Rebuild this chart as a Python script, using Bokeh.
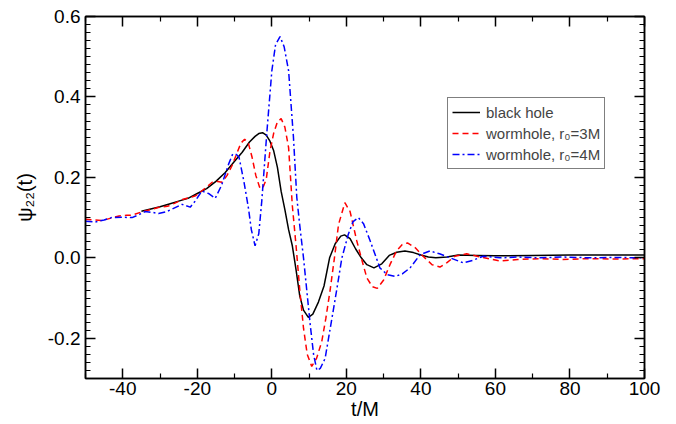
from bokeh.plotting import figure
from bokeh.models import (LinearAxis, FixedTicker, Legend, LegendItem, Range1d)
from bokeh.embed import file_html
from bokeh.resources import INLINE

# ---------------- data ----------------
t_bh = [-35, -30, -27.5, -25, -22.5, -20, -17.5, -15, -12.5, -10, -8, -6, -4.5, -3.5, -2.5,
        -1.5, -0.5, 0.5, 1.5, 2.5, 3.5, 4.5, 5.5, 6.5, 7.5, 8.5, 9.8, 11, 12.5, 14, 15.5,
        17, 18.5, 19.5, 21, 22.5, 24, 25.5, 27.4, 29.5, 31.5, 33.5, 35.7, 38, 40, 42, 44,
        47, 50, 55, 60, 70, 80, 90, 100]
psi_bh = [0.116, 0.127, 0.134, 0.141, 0.148, 0.160, 0.172, 0.190, 0.212, 0.240, 0.262, 0.288,
          0.302, 0.309, 0.311, 0.305, 0.290, 0.266, 0.225, 0.165, 0.120, 0.070, 0.030, -0.030,
          -0.095, -0.130, -0.148, -0.140, -0.110, -0.070, 0.000, 0.035, 0.054, 0.057, 0.048,
          0.022, 0.000, -0.017, -0.025, -0.015, 0.006, 0.014, 0.017, 0.013, 0.007, 0.002,
          0.000, 0.002, 0.007, 0.006, 0.005, 0.006, 0.007, 0.007, 0.007]

t_wh3 = [-50, -47.5, -45.5, -43, -41, -39, -37.5, -35, -32.5, -30.5, -28, -26, -24, -22, -20.5,
         -19, -17.5, -16, -14.5, -13.4, -12, -10.7, -9.3, -8.3, -7.3, -6.3, -5.3, -4.3, -3.3,
         -2.5, -1.5, -0.5, 0.5, 1.5, 2.5, 3.5, 4.5, 5.5, 6.5, 7.5, 8.5, 9.5, 10.7, 12, 13.4,
         14.5, 15.6, 16.8, 17.9, 19.6, 21, 22.8, 24, 25.5, 27, 28.3, 30, 31.7, 33.5, 35, 36.4,
         38.5, 40.6, 43, 45.1, 47, 49.1, 52.3, 56, 61.2, 66, 72, 78, 85, 92, 100]
psi_wh3 = [0.096, 0.094, 0.093, 0.099, 0.104, 0.106, 0.106, 0.114, 0.120, 0.125, 0.128, 0.136,
           0.145, 0.150, 0.154, 0.165, 0.176, 0.188, 0.190, 0.188, 0.205, 0.229, 0.262, 0.285,
           0.295, 0.285, 0.250, 0.205, 0.176, 0.172, 0.195, 0.265, 0.310, 0.338, 0.346, 0.325,
           0.274, 0.130, 0.030, -0.080, -0.175, -0.240, -0.270, -0.250, -0.208, -0.150, -0.083,
           0.000, 0.083, 0.137, 0.115, 0.042, 0.000, -0.050, -0.072, -0.076, -0.055, -0.017,
           0.018, 0.033, 0.037, 0.025, 0.004, -0.017, -0.023, -0.012, 0.004, 0.010, 0.002,
           -0.008, -0.004, -0.002, -0.004, -0.002, -0.003, -0.002]

t_wh4 = [-50, -47.5, -45, -43, -40, -37.5, -35.5, -34, -32, -30.4, -28.5, -26.8, -24.1, -21.9,
         -20.5, -18.8, -17, -15.2, -13.5, -11.6, -10.5, -9.5, -8.8, -7.5, -6.3, -5.5, -4.5,
         -3.5, -2.7, -1.3, 0, 1, 2.2, 3.3, 4.5, 5.8, 6.7, 7.5, 8.5, 10.3, 11.2, 12.1, 13, 14.3,
         16.5, 17.4, 18.8, 20.5, 21.8, 23.2, 24.6, 26.4, 29, 31, 33.1, 35, 37.1, 39.8, 42.4,
         45, 47.8, 51.4, 54, 56.7, 61.2, 66, 72, 78, 85, 92, 100]
psi_wh4 = [0.091, 0.089, 0.094, 0.100, 0.101, 0.100, 0.108, 0.115, 0.113, 0.110, 0.114, 0.121,
           0.133, 0.126, 0.142, 0.166, 0.160, 0.148, 0.180, 0.233, 0.258, 0.257, 0.250, 0.190,
           0.125, 0.070, 0.030, 0.060, 0.141, 0.316, 0.465, 0.530, 0.550, 0.525, 0.465, 0.300,
           0.150, 0.080, 0.000, -0.166, -0.240, -0.280, -0.275, -0.250, -0.130, -0.080, 0.000,
           0.058, 0.090, 0.100, 0.085, 0.042, -0.025, -0.042, -0.046, -0.040, -0.025, 0.008,
           0.017, 0.010, 0.000, -0.0125, -0.006, 0.004, 0.000, 0.002, 0.000, 0.002, 0.000,
           0.001, 0.000]

x_major = [-40, -20, 0, 20, 40, 60, 80, 100]
x_minor = [-50, -30, -10, 10, 30, 50, 70, 90]
y_major = [-0.2, 0.0, 0.2, 0.4, 0.6]
y_major_labels = ["-0.2", "0.0", "0.2", "0.4", "0.6"]
y_minor = [round(-0.3 + 0.02 * i, 2) for i in range(46)]

legend_labels = ["black hole", "wormhole, r\u2080=3M", "wormhole, r\u2080=4M"]
x_title = "t/M"
y_title = "\u03c8\u2082\u2082(t)"

FONT = "Liberation Sans"

p = figure(width=670, height=424, output_backend="svg", toolbar_location=None,
           x_range=Range1d(-50, 100), y_range=Range1d(-0.3, 0.6),
           min_border_left=85, min_border_right=26, min_border_top=16, min_border_bottom=46)
p.grid.visible = False
p.outline_line_color = "black"
p.outline_line_width = 1.5
p.background_fill_color = "white"
p.border_fill_color = "white"

r_bh = p.line(t_bh, psi_bh, line_color="black", line_width=1.5)
r_wh3 = p.line(t_wh3, psi_wh3, line_color="#ff0000", line_width=1.5, line_dash="6 4")
r_wh4 = p.line(t_wh4, psi_wh4, line_color="#0000ff", line_width=1.5, line_dash="7 3 2 3")

def style_axis(ax, ticks, minor, labels):
    ax.ticker = FixedTicker(ticks=ticks, minor_ticks=minor)
    ax.major_tick_in = 10
    ax.major_tick_out = 0
    ax.minor_tick_in = 5
    ax.minor_tick_out = 0
    ax.axis_line_width = 1.5
    ax.major_tick_line_width = 1.5
    ax.minor_tick_line_width = 1.2
    ax.major_label_text_font = FONT
    ax.major_label_text_font_size = "19px"
    ax.major_label_text_color = "black"
    ax.major_label_overrides = labels
    ax.axis_label_text_font = FONT
    ax.axis_label_text_font_style = "normal"
    ax.axis_label_text_font_size = "20px"
    ax.axis_label_text_color = "black"

xb = p.xaxis[0]
style_axis(xb, x_major, x_minor, {v: str(v) for v in x_major})
xb.major_label_standoff = 3
xb.axis_label = x_title
xb.axis_label_standoff = 0

yl = p.yaxis[0]
style_axis(yl, y_major, y_minor, {v: s for v, s in zip(y_major, y_major_labels)})
yl.major_label_standoff = 5
yl.axis_label = y_title
yl.axis_label_standoff = 9

xt = LinearAxis()
style_axis(xt, x_major, x_minor, {v: "" for v in x_major})
xt.major_label_standoff = 0
p.add_layout(xt, "above")
yr = LinearAxis()
style_axis(yr, y_major, y_minor, {v: "" for v in y_major})
yr.major_label_standoff = 0
p.add_layout(yr, "right")

legend = Legend(items=[LegendItem(label=legend_labels[0], renderers=[r_bh]),
                       LegendItem(label=legend_labels[1], renderers=[r_wh3]),
                       LegendItem(label=legend_labels[2], renderers=[r_wh4])],
                location=(362, 209))
legend.label_text_font = FONT
legend.label_text_font_size = "15px"
legend.border_line_color = "black"
legend.border_line_width = 1
legend.background_fill_alpha = 1
legend.padding = 4
legend.spacing = 1
legend.margin = 0
legend.glyph_width = 28
legend.glyph_height = 20
legend.label_height = 20
legend.label_standoff = 6
p.add_layout(legend, "center")

open("out.html", "w").write(file_html(p, INLINE))
